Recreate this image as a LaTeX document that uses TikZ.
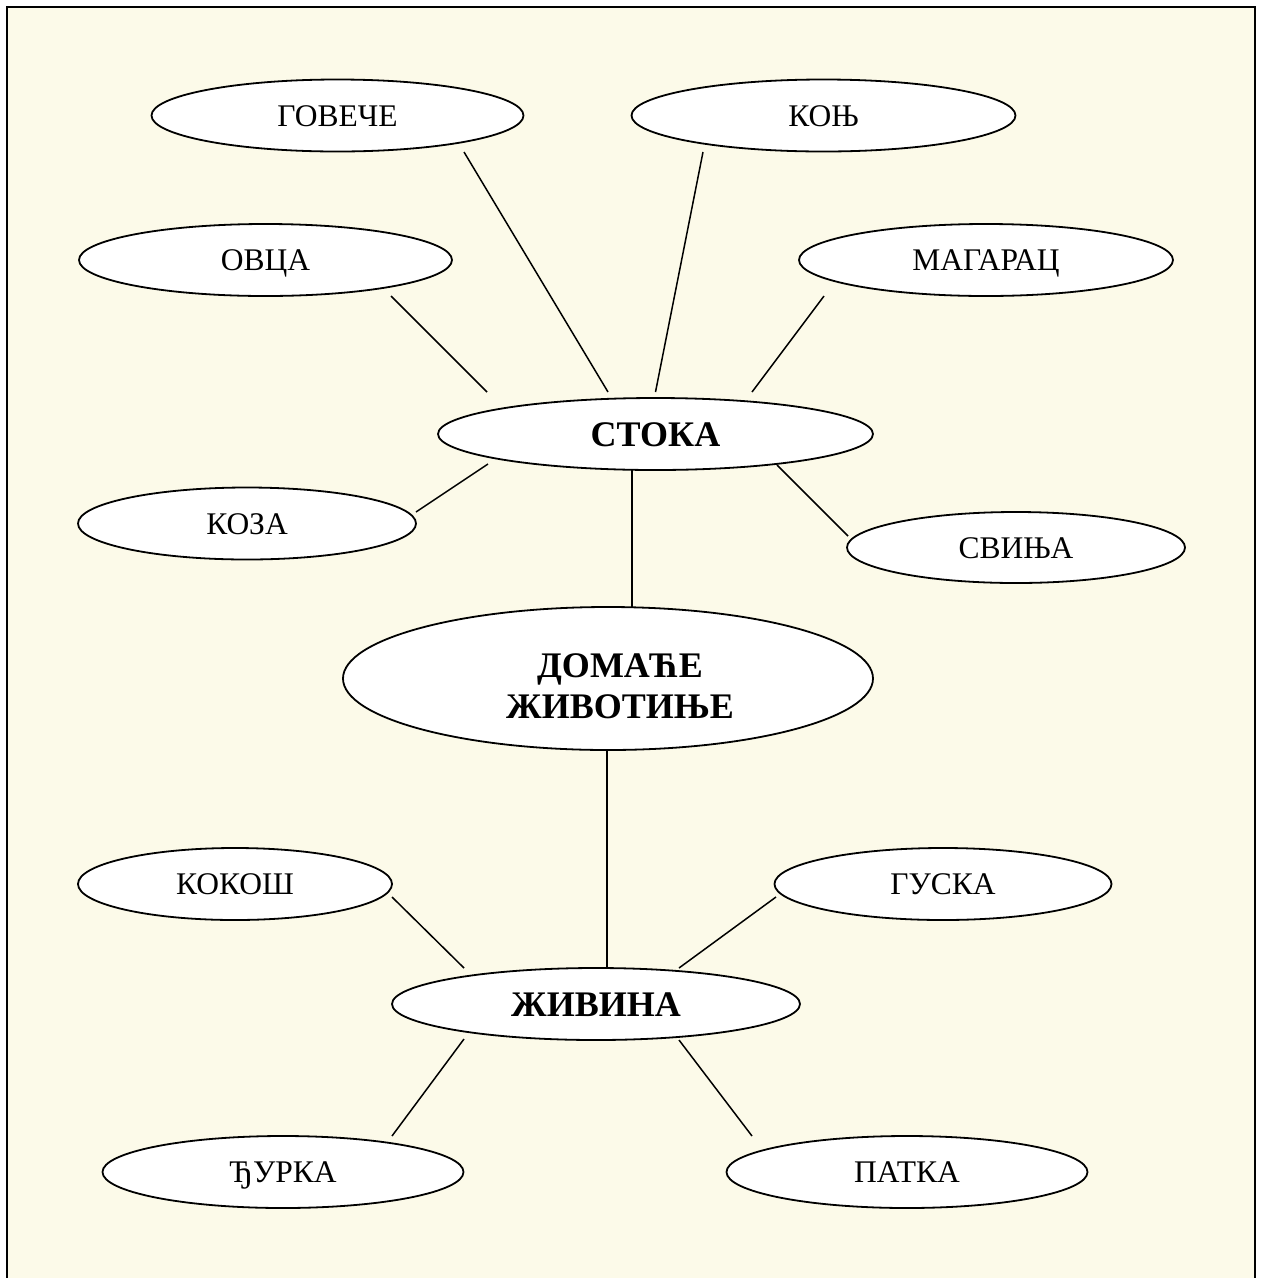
\documentclass[tikz,border=0pt]{standalone}
\usepackage{fontspec}
\setmainfont{Liberation Serif}
\usetikzlibrary{shapes.geometric,calc}
\definecolor{cream}{RGB}{252,250,233}
\begin{document}
\begin{tikzpicture}[x=1pt,y=-1pt,
  leaf/.style={ellipse, draw, line width=1.8pt, fill=white, inner sep=0pt,
    minimum height=72pt, text height=21pt, text depth=-2pt,
    font=\fontsize{31.5}{36}\selectfont},
  hub/.style={ellipse, draw, line width=1.8pt, fill=white, inner sep=0pt,
    text height=24pt, text depth=-3pt, font=\bfseries\fontsize{36}{41}\selectfont},
  hubtext/.style={inner sep=0pt, align=center, font=\bfseries\fontsize{36}{41}\selectfont},
  conn/.style={line width=1.5pt}]
\clip (0,0) rectangle (1261,1278);
\useasboundingbox (0,0) rectangle (1261,1278);
\fill[white] (0,0) rectangle (1261,1278);
\draw[fill=cream, line width=2pt] (7,7) rectangle (1255,1300);

% nodes
\node[leaf, minimum width=372pt] (gov) at (337.5,115.5) {ГОВЕЧЕ};
\node[leaf, minimum width=384pt] (kon) at (823.5,115.5) {КОЊ};
\node[leaf, minimum width=373pt] (ovca) at (265.5,260) {ОВЦА};
\node[leaf, minimum width=374pt] (mag) at (986,260) {МАГАРАЦ};
\node[hub, minimum width=435pt, minimum height=72pt] (stoka) at (655.5,434) {СТОКА};
\node[leaf, minimum width=338pt] (koza) at (247,523.5) {КОЗА};
\node[leaf, minimum width=338pt, minimum height=71pt] (svinja) at (1016,547.5) {СВИЊА};
\node[hub, minimum width=530pt, minimum height=143pt] (dom) at (608,678.5) {};
\node[hubtext] (domtext) at ($(dom)+(12,8)$) {ДОМАЋЕ\\ЖИВОТИЊЕ};
\node[leaf, minimum width=314pt] (kokos) at (235,884) {КОКОШ};
\node[leaf, minimum width=337pt] (guska) at (943,884) {ГУСКА};
\node[hub, minimum width=408pt, minimum height=72pt] (zivina) at (596,1004) {ЖИВИНА};
\node[leaf, minimum width=361pt] (djurka) at (283,1172) {ЂУРКА};
\node[leaf, minimum width=361pt] (patka) at (907,1172) {ПАТКА};

% connectors
\draw[conn] ($(gov)+(126.5,36.5)$) -- ($(stoka)+(-47.5,-42)$);
\draw[conn] ($(kon)+(-120.5,36.5)$) -- ($(stoka)+(0,-42)$);
\draw[conn] ($(ovca)+(125.5,36)$) -- ($(stoka)+(-168.5,-42)$);
\draw[conn] ($(mag)+(-162,36)$) -- ($(stoka)+(96.5,-42)$);
\draw[conn] ($(koza)+(169,-11.5)$) -- ($(stoka)+(-167.5,30)$);
\draw[conn] ($(svinja)+(-168,-11.5)$) -- ($(stoka)+(121.5,31)$);
\draw[conn] ($(stoka)+(-23.5,36)$) -- ($(dom)+(24,-71.5)$);
\draw[conn] ($(dom)+(-1,71.5)$) -- ($(zivina)+(11,-36)$);
\draw[conn] ($(kokos)+(157,13)$) -- ($(zivina)+(-132,-36)$);
\draw[conn] ($(guska)+(-167,13)$) -- ($(zivina)+(83,-36)$);
\draw[conn] ($(djurka)+(109,-36)$) -- ($(zivina)+(-132,35)$);
\draw[conn] ($(patka)+(-155,-36)$) -- ($(zivina)+(83,36)$);
\end{tikzpicture}
\end{document}
